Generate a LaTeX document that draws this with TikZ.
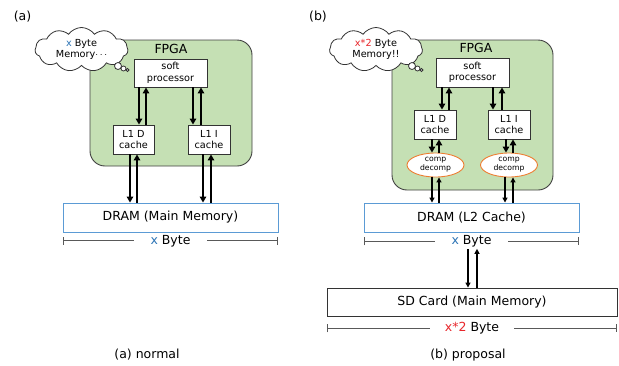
\documentclass[tikz,border=0pt]{standalone}
\usepackage{fontspec}
\setmainfont{DejaVu Sans}
\usepackage{xcolor}
\usetikzlibrary{
	arrows.meta,
	calc,
	positioning,
	shapes.geometric,
	shapes.symbols
}

\definecolor{fpgagreen}{HTML}{C5E0B4}
\definecolor{dramblue}{HTML}{5B9BD5}
\definecolor{xblue}{HTML}{2E75B6}
\definecolor{xred}{HTML}{E8262B}
\definecolor{compor}{HTML}{ED7D31}
\definecolor{dimgray}{HTML}{595959}

\newcommand{\bigtxt}{\fontsize{12.5}{14}\selectfont}
\newcommand{\midtxt}{\fontsize{9.7}{11.5}\selectfont}
\newcommand{\smalltxt}{\fontsize{7.7}{9}\selectfont}

\tikzset{
	fpga/.style={draw=black!75, fill=fpgagreen, rounded corners=15pt, line width=0.9pt},
	unit/.style={draw=black!80, fill=white, line width=0.9pt, align=center, font=\midtxt, inner sep=0pt},
	mem/.style={draw, line width=0.9pt, align=center, font=\bigtxt, inner sep=0pt},
	comp/.style={ellipse, draw=compor, fill=white, line width=0.9pt, align=center, font=\smalltxt, inner sep=0pt, minimum width=57pt, minimum height=24pt},
	thought/.style={cloud, cloud puffs=11, cloud puff arc=110, aspect=2.1, draw=black!80, fill=white, line width=0.8pt, align=center, font=\midtxt, inner sep=0pt, minimum width=93pt, minimum height=44pt},
	bubble/.style={circle, draw=black!80, fill=white, line width=0.8pt, inner sep=0pt},
	fatarrow/.style={line width=2.3pt, -{Triangle[length=6pt,width=6.5pt]}},
	thinarrow/.style={line width=1.2pt, -{Triangle[length=5pt,width=5pt]}},
	dimline/.style={draw=dimgray, line width=1pt, {Bar[width=8pt]}-{Bar[width=8pt]}},
	dimtext/.style={fill=white, font=\bigtxt, inner xsep=14pt, inner ysep=1pt}
}

\begin{document}
\begin{tikzpicture}[x=1pt, y=-1pt]
	\useasboundingbox (0,0) rectangle (619,365);

	% (a) normal
	\node[font=\bigtxt] (tagA) at (22.5,17) {(a)};
	\node[fpga, minimum width=162pt, minimum height=126pt] (fpgaA) at (171,103) {};
	\node[font=\bigtxt, anchor=north] (fpgaAlbl) at ([yshift=-1pt]fpgaA.north) {FPGA};
	\node[unit, minimum width=73pt, minimum height=28pt] (procA) at (170.5,73) {soft\\processor};
	\node[unit, minimum width=41pt, minimum height=29pt] (l1dA) at (133.5,139.5) {L1 D\\cache};
	\node[unit, minimum width=42pt, minimum height=29pt] (l1iA) at (209,139.5) {L1 I\\cache};
	\node[mem, draw=dramblue, minimum width=215pt, minimum height=29pt] (dramA) at (170.5,217.5) {DRAM (Main Memory)};
	\node[thought] (cloudA) at (81.5,49.5) {\textcolor{xblue}{x} Byte\\Memory$\cdots$};
	\node[bubble, minimum size=7pt] (bA1) at (118,66) {};
	\node[bubble, minimum size=5pt] (bA2) at (123.5,68.5) {};
	\node[bubble, minimum size=3pt] (bA3) at (127.5,70) {};

	\draw[fatarrow] (139,0 |- procA.south) -- (139,0 |- l1dA.north);
	\draw[fatarrow] (146,0 |- l1dA.north) -- (146,0 |- procA.south);
	\draw[fatarrow] (193,0 |- procA.south) -- (193,0 |- l1iA.north);
	\draw[fatarrow] (201,0 |- l1iA.north) -- (201,0 |- procA.south);
	\draw[fatarrow] (130,0 |- l1dA.south) -- (130,0 |- dramA.north);
	\draw[fatarrow] (137,0 |- dramA.north) -- (137,0 |- l1dA.south);
	\draw[fatarrow] (203,0 |- l1iA.south) -- (203,0 |- dramA.north);
	\draw[fatarrow] (211,0 |- dramA.north) -- (211,0 |- l1iA.south);

	\coordinate (dA1) at ($(dramA.south west)+(0,8.5)$);
	\coordinate (dA2) at ($(dramA.south east)+(0,8.5)$);
	\draw[dimline] (dA1) -- (dA2) node[dimtext, midway, inner xsep=17pt] (byteA) {\textcolor{xblue}{x} Byte};
	\node[font=\bigtxt] (capA) at (147,355) {(a) normal};

	% (b) proposal
	\node[font=\bigtxt] (tagB) at (318,17) {(b)};
	\node[fpga, minimum width=161pt, minimum height=150pt] (fpgaB) at (472.5,115) {};
	\node[font=\bigtxt] (fpgaBlbl) at (476,48) {FPGA};
	\node[unit, minimum width=73pt, minimum height=29pt] (procB) at (472.5,72.5) {soft\\processor};
	\node[unit, minimum width=42pt, minimum height=29pt] (l1dB) at (435,124.5) {L1 D\\cache};
	\node[unit, minimum width=42pt, minimum height=29pt] (l1iB) at (509,124.5) {L1 I\\cache};
	\node[comp] (compL) at (435.5,165) {comp\\decomp};
	\node[comp] (compR) at (509,165) {comp\\decomp};
	\node[mem, draw=dramblue, minimum width=215pt, minimum height=29pt] (dramB) at (471.5,217.5) {DRAM (L2 Cache)};
	\node[mem, draw=black!80, minimum width=290pt, minimum height=28pt] (sdB) at (472,302) {SD Card (Main Memory)};
	\node[thought] (cloudB) at (376,49.5) {\textcolor{xred}{x*2} Byte\\Memory!!};
	\node[bubble, minimum size=7pt] (bB1) at (412,66) {};
	\node[bubble, minimum size=5pt] (bB2) at (417.5,68.5) {};
	\node[bubble, minimum size=3pt] (bB3) at (421.5,70) {};

	\draw[fatarrow] (442,0 |- procB.south) -- (442,0 |- l1dB.north);
	\draw[fatarrow] (449,0 |- l1dB.north) -- (449,0 |- procB.south);
	\draw[fatarrow] (493,0 |- procB.south) -- (493,0 |- l1iB.north);
	\draw[fatarrow] (502,0 |- l1iB.north) -- (502,0 |- procB.south);
	\draw[fatarrow] (432,0 |- l1dB.south) -- (432,0 |- compL.north);
	\draw[fatarrow] (439,0 |- compL.north) -- (439,0 |- l1dB.south);
	\draw[fatarrow] (506,0 |- l1iB.south) -- (506,0 |- compR.north);
	\draw[fatarrow] (513,0 |- compR.north) -- (513,0 |- l1iB.south);
	\draw[thinarrow] (432,0 |- compL.south) -- (432,0 |- dramB.north);
	\draw[thinarrow] (439,0 |- dramB.north) -- (439,0 |- compL.south);
	\draw[thinarrow] (505,0 |- compR.south) -- (505,0 |- dramB.north);
	\draw[thinarrow] (513,0 |- dramB.north) -- (513,0 |- compR.south);

	\coordinate (dB1) at ($(dramB.south west)+(0,9)$);
	\coordinate (dB2) at ($(dramB.south east)+(0,9)$);
	\draw[dimline] (dB1) -- (dB2) node[dimtext, midway, inner xsep=17pt] (byteB) {\textcolor{xblue}{x} Byte};
	\draw[thinarrow] (468,0 |- byteB.south) -- (468,0 |- sdB.north);
	\draw[thinarrow] (477,0 |- sdB.north) -- (477,0 |- byteB.south);

	\coordinate (dS1) at ($(sdB.south west)+(0,12)$);
	\coordinate (dS2) at ($(sdB.south east)+(0,12)$);
	\draw[dimline] (dS1) -- (dS2) node[dimtext, midway, inner xsep=15pt] (byteS) {\textcolor{xred}{x*2} Byte};
	\node[font=\bigtxt] (capB) at (468,355) {(b) proposal};
\end{tikzpicture}
\end{document}
